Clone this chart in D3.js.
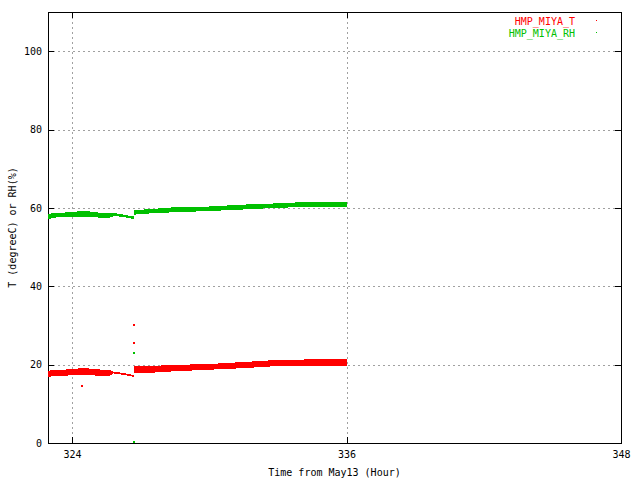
<!DOCTYPE html>
<html><head><meta charset="utf-8">
<script src="https://cdn.jsdelivr.net/npm/d3@7"></script>
<style>body{margin:0;background:#fff}svg{display:block}text{font-family:"DejaVu Sans Mono",monospace;font-size:10px}</style>
</head><body>
<script>
// Time (hours from May13)
const xTicks = [324, 336, 348];
const yTicks = [0, 20, 40, 60, 80, 100];
const seriesNames = ["HMP_MIYA_T", "HMP_MIYA_RH"];

// HMP_MIYA_T: segments of [time, low, high]
const tSeg1Time = [322.95, 323.3, 323.7, 324.3, 324.7, 325.3, 325.6, 325.8];
const tSeg1Low  = [17.0, 17.3, 17.3, 17.6, 17.6, 17.1, 17.1, 17.9];
const tSeg1High = [18.3, 18.6, 18.6, 18.9, 18.9, 18.6, 18.6, 18.1];
const tSeg2Time = [325.8, 326.3, 326.7];
const tSeg2Low  = [17.9, 17.5, 17.0];
const tSeg2High = [18.1, 17.7, 17.2];
const tSeg3Time = [326.72, 327.0, 328.4, 329.9, 331.4, 332.8, 334.3, 336.0];
const tSeg3Low  = [17.9, 17.9, 18.4, 18.8, 19.2, 19.7, 19.9, 19.8];
const tSeg3High = [19.4, 19.4, 19.8, 20.0, 20.5, 21.0, 21.2, 21.2];
const tOutTime = [324.44, 326.72, 326.72];
const tOutVal  = [14.5, 30.2, 25.4];

// HMP_MIYA_RH
const rhSeg1Time = [322.95, 323.3, 323.7, 324.3, 324.7, 325.3, 325.6, 325.8];
const rhSeg1Low  = [57.3, 57.7, 57.7, 57.9, 57.9, 57.6, 57.6, 58.0];
const rhSeg1High = [58.3, 58.7, 58.7, 59.0, 59.0, 58.6, 58.6, 58.6];
const rhSeg2Time = [325.8, 326.2, 326.7];
const rhSeg2Low  = [58.0, 57.9, 57.3];
const rhSeg2High = [58.6, 58.2, 57.7];
const rhSeg3Time = [326.72, 327.0, 328.4, 329.9, 331.4, 332.8, 334.3, 336.0];
const rhSeg3Low  = [58.4, 58.6, 59.0, 59.3, 59.7, 60.1, 60.4, 60.4];
const rhSeg3High = [59.3, 59.4, 60.0, 60.2, 60.7, 61.0, 61.4, 61.4];
const rhOutTime = [326.72, 326.72];
const rhOutVal  = [22.9, 0.3];

const W = 640, H = 480;
const L = 48, R = 621, T = 12, B = 443;
const colors = ["#ff0000", "#00c000"];

const svg = d3.select("body").append("svg").attr("width", W).attr("height", H);
const x = d3.scaleLinear().domain([322.95, 348]).range([L, R]);
const y = d3.scaleLinear().domain([0, 110]).range([B, T]);

// grid
const g = svg.append("g").attr("shape-rendering", "crispEdges");
g.selectAll(".gx").data(xTicks.filter(v => x(v) < R - 1)).enter().append("line")
  .attr("x1", d => Math.round(x(d)) + 0.5).attr("x2", d => Math.round(x(d)) + 0.5)
  .attr("y1", T).attr("y2", B).attr("stroke", "#a0a0a0").attr("stroke-dasharray", "2,3");
g.selectAll(".gy").data(yTicks.filter(v => v > 0)).enter().append("line")
  .attr("y1", d => Math.round(y(d)) + 0.5).attr("y2", d => Math.round(y(d)) + 0.5)
  .attr("x1", L).attr("x2", R).attr("stroke", "#a0a0a0").attr("stroke-dasharray", "2,3");

// axes via d3 axis (ticks inward, labels custom)
const axB = d3.axisBottom(x).tickValues(xTicks).tickSize(-6).tickPadding(8).tickFormat(d3.format("d"));
const axL = d3.axisLeft(y).tickValues(yTicks).tickSize(-6).tickPadding(6).tickFormat(d3.format("d"));
const axT = d3.axisTop(x).tickValues(xTicks).tickSize(-6).tickFormat("");
const axR = d3.axisRight(y).tickValues(yTicks).tickSize(-6).tickFormat("");
function styleAxis(sel){
  sel.select(".domain").remove();
  sel.selectAll("line").attr("stroke", "#000").attr("shape-rendering", "crispEdges");
  sel.selectAll("text").attr("fill", "#000").style("font-family", '"DejaVu Sans Mono",monospace').style("font-size", "10px");
}
svg.append("g").attr("transform", `translate(0,${B})`).call(axB).call(styleAxis);
svg.append("g").attr("transform", `translate(${L},0)`).call(axL).call(styleAxis);
svg.append("g").attr("transform", `translate(0,${T})`).call(axT).call(styleAxis);
svg.append("g").attr("transform", `translate(${R},0)`).call(axR).call(styleAxis);

// frame
svg.append("rect").attr("x", L + 0.5).attr("y", T + 0.5).attr("width", R - L).attr("height", B - T)
  .attr("fill", "none").attr("stroke", "#000").attr("shape-rendering", "crispEdges");

// data bands
const area = d3.area().x(d => x(d[0])).y0(d => y(d[1])).y1(d => y(d[2]));
function band(times, lows, highs, color){
  const pts = times.map((t, i) => [t, lows[i], highs[i]]);
  svg.append("path").attr("d", area(pts)).attr("fill", color).attr("stroke", color)
    .attr("stroke-width", 1).attr("shape-rendering", "crispEdges");
}
band(tSeg1Time, tSeg1Low, tSeg1High, colors[0]);
band(tSeg2Time, tSeg2Low, tSeg2High, colors[0]);
band(tSeg3Time, tSeg3Low, tSeg3High, colors[0]);
band(rhSeg1Time, rhSeg1Low, rhSeg1High, colors[1]);
band(rhSeg2Time, rhSeg2Low, rhSeg2High, colors[1]);
band(rhSeg3Time, rhSeg3Low, rhSeg3High, colors[1]);

function outliers(times, vals, color){
  svg.append("g").selectAll("rect").data(times.map((t, i) => [t, vals[i]])).enter().append("rect")
    .attr("x", d => Math.round(x(d[0])) - 1).attr("y", d => Math.round(y(d[1])) - 1)
    .attr("width", 2).attr("height", 2).attr("fill", color);
}
outliers(tOutTime, tOutVal, colors[0]);
outliers(rhOutTime, rhOutVal, colors[1]);

// legend
seriesNames.forEach((n, i) => {
  svg.append("text").attr("x", 575).attr("y", 25 + i * 12).attr("text-anchor", "end")
    .attr("fill", colors[i]).text(n);
  svg.append("rect").attr("x", 596).attr("y", 20 + i * 12).attr("width", 1).attr("height", 1).attr("fill", colors[i]);
});

// axis titles
svg.append("text").attr("x", (L + R) / 2).attr("y", 476).attr("text-anchor", "middle").text("Time from May13 (Hour)");
svg.append("text").attr("transform", `translate(16,${(T + B) / 2}) rotate(-90)`).attr("text-anchor", "middle").text("T (degreeC) or RH(%)");
</script>
</body></html>
